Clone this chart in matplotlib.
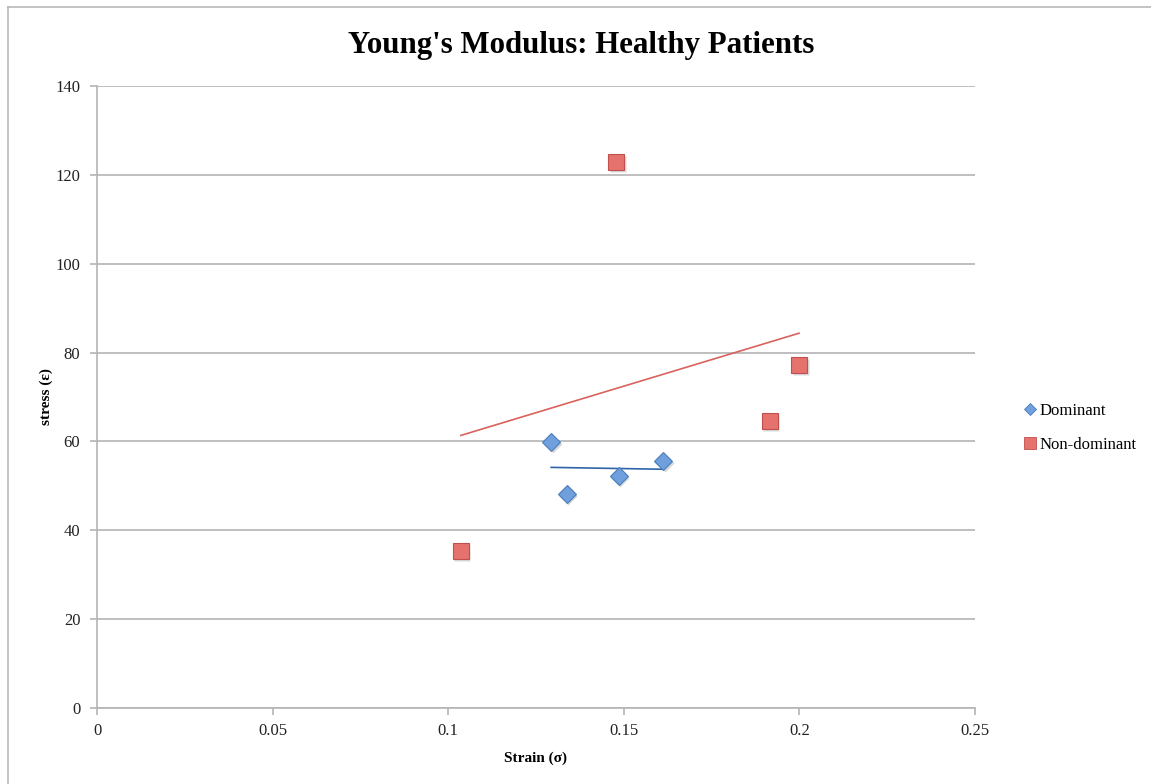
import matplotlib
matplotlib.use("Agg")
import matplotlib.pyplot as plt
import matplotlib.transforms as mtransforms
from matplotlib.lines import Line2D
import numpy as np

plt.rcParams['font.family'] = ['Liberation Serif', 'DejaVu Serif']

# Measurements
dominant_strain = [0.1293, 0.1338, 0.1486, 0.1612]
dominant_stress = [59.9, 48.2, 52.2, 55.6]
nondom_strain = [0.1036, 0.1478, 0.1916, 0.1999]
nondom_stress = [35.3, 122.9, 64.6, 77.2]

x_ticks = [0, 0.05, 0.1, 0.15, 0.2, 0.25]
x_tick_labels = ["0", "0.05", "0.1", "0.15", "0.2", "0.25"]
y_ticks = [0, 20, 40, 60, 80, 100, 120, 140]

blue_face, blue_edge, blue_trend = "#6f9fdc", "#4a7ebb", "#2f65a8"
red_face, red_edge, red_trend = "#e6726d", "#c0504d", "#d9625e"
grid_col = "#b4b4b4"

fig = plt.figure(figsize=(11.51, 7.84), dpi=100)
ax = fig.add_axes([97 / 1151, 1 - 708 / 784, (975 - 97) / 1151, (708 - 86) / 784])

# outer chart frame
fig.add_artist(Line2D([8 / 1151, 8 / 1151], [0, 1 - 7 / 784], transform=fig.transFigure,
                      color="#b9b9b9", lw=1.2))
fig.add_artist(Line2D([8 / 1151, 1], [1 - 7 / 784, 1 - 7 / 784], transform=fig.transFigure,
                      color="#b9b9b9", lw=1.2))

ax.set_xlim(0, 0.25)
ax.set_ylim(0, 140)
ax.set_yticks(y_ticks)
ax.set_yticklabels([str(v) for v in y_ticks])
ax.set_xticks(x_ticks)
ax.set_xticklabels(x_tick_labels)
ax.yaxis.grid(True, color=grid_col, lw=1.2)
ax.set_axisbelow(True)
for s in ("top", "right"):
    ax.spines[s].set_visible(False)
for s in ("left", "bottom"):
    ax.spines[s].set_color(grid_col)
    ax.spines[s].set_linewidth(1.2)
ax.tick_params(axis="both", colors=grid_col, length=5, width=1.2, labelsize=12,
               labelcolor="#222222", pad=6)
ax.tick_params(axis="y", pad=7)

# linear trendlines
for xs, ys, col in ((nondom_strain, nondom_stress, red_trend),
                    (dominant_strain, dominant_stress, blue_trend)):
    k, b = np.polyfit(xs, ys, 1)
    xx = np.array([min(xs), max(xs)])
    ax.plot(xx, k * xx + b, color=col, lw=1.2, zorder=2)

# marker shadows
shadow = ax.transData + mtransforms.ScaledTranslation(1.5 / 100, -2 / 100, fig.dpi_scale_trans)
ax.plot(dominant_strain, dominant_stress, ls="none", marker="D", ms=9.6, mfc="#000000",
        mec="none", alpha=0.15, transform=shadow, zorder=3)
ax.plot(nondom_strain, nondom_stress, ls="none", marker="s", ms=12, mfc="#000000",
        mec="none", alpha=0.15, transform=shadow, zorder=3)

ax.plot(dominant_strain, dominant_stress, ls="none", marker="D", ms=9.6, mfc=blue_face,
        mec=blue_edge, mew=0.8, zorder=4, label="Dominant")
ax.plot(nondom_strain, nondom_stress, ls="none", marker="s", ms=12, mfc=red_face,
        mec=red_edge, mew=0.8, zorder=4, label="Non-dominant")

fig.text(581 / 1151, 1 - 46 / 784, "Young's Modulus: Healthy Patients", fontsize=22.2,
         fontweight="bold", ha="center", va="center")
ax.set_xlabel("Strain (σ)", fontsize=11, fontweight="bold", labelpad=9)
ax.set_ylabel("stress (ε)", fontsize=11, fontweight="bold")
ax.yaxis.set_label_coords((53 - 97) / 878, 0.5)

handles = [
    Line2D([], [], ls="none", marker="D", ms=6, mfc=blue_face, mec=blue_edge, mew=0.6),
    Line2D([], [], ls="none", marker="s", ms=8, mfc=red_face, mec=red_edge, mew=0.6),
]
fig.legend(handles, ["Dominant", "Non-dominant"], loc="center left",
           bbox_to_anchor=(1010 / 1151, 1 - 428 / 784), frameon=False, fontsize=12,
           handlelength=0.6, handletextpad=0.3, labelspacing=1.1)

fig.savefig("out.png", dpi=100)
